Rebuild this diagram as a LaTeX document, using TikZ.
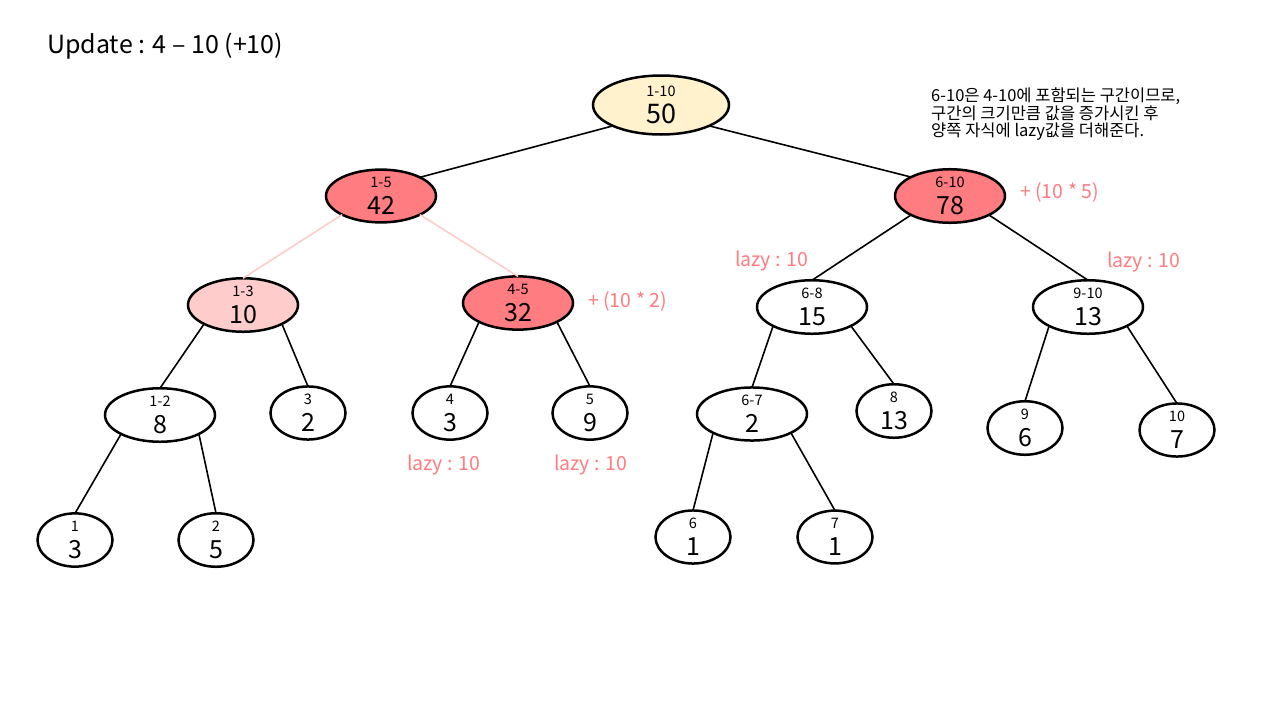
\documentclass[tikz,border=0pt]{standalone}
\usepackage{fontspec}
\setmainfont{Noto Sans CJK KR}
\usetikzlibrary{shapes.geometric}
\definecolor{yel}{HTML}{FFF2CC}
\definecolor{redf}{HTML}{FF7C80}
\definecolor{pinkf}{HTML}{FFCCCC}
\definecolor{pinkline}{HTML}{FFCCCC}
\definecolor{pinktxt}{HTML}{FF7C80}
\newcommand{\lab}[1]{{\fontsize{14.5}{15}\selectfont #1}}
\tikzset{
  tn/.style={ellipse, draw=black, line width=2.5pt, inner sep=0pt, outer sep=0pt,
    align=center, font=\fontsize{25}{27}\selectfont, fill=white},
  inner/.style={tn, minimum width=110pt, minimum height=50pt},
  leaf/.style={tn, minimum width=75pt, minimum height=48pt},
  edge/.style={line width=1.6pt, draw=black},
  pedge/.style={line width=1.6pt, draw=pinkline},
  note/.style={text=pinktxt, font=\fontsize{19.5}{21}\selectfont, inner sep=0pt},
}
\begin{document}
\begin{tikzpicture}[x=1pt,y=-1pt]
\useasboundingbox[fill=white] (0,0) rectangle (1280,720);

\node[anchor=west, inner sep=0pt, font=\fontsize{25}{27}\selectfont] (title) at (47,46) {Update : 4 – 10 (+10)};

\node[anchor=north west, inner sep=0pt, align=left, font=\fontsize{16.5}{17.5}\selectfont] (expl) at (931,88)
 {6-10은 4-10에 포함되는 구간이므로,\\구간의 크기만큼 값을 증가시킨 후\\양쪽 자식에 lazy값을 더해준다.};

% nodes
\node[tn, fill=yel, minimum width=136pt, minimum height=59pt, font=\fontsize{27}{27}\selectfont] (n110) at (661,105) {\lab{1-10}\\50};
\node[inner, fill=redf] (n15) at (381,196) {\lab{1-5}\\42};
\node[inner, fill=redf] (n610) at (950,196) {\lab{6-10}\\78};
\node[inner, fill=pinkf] (n13) at (243,305) {\lab{1-3}\\10};
\node[inner, fill=redf] (n45) at (518,303) {\lab{4-5}\\32};
\node[inner] (n68) at (812,307) {\lab{6-8}\\15};
\node[inner] (n910) at (1088,307) {\lab{9-10}\\13};
\node[inner] (n12) at (160,415) {\lab{1-2}\\8};
\node[leaf] (n3) at (308,413) {\lab{3}\\2};
\node[leaf] (n4) at (450,413) {\lab{4}\\3};
\node[leaf] (n5) at (590,413) {\lab{5}\\9};
\node[inner] (n67) at (752,414) {\lab{6-7}\\2};
\node[leaf] (n8) at (894,411) {\lab{8}\\13};
\node[leaf] (n9) at (1025,428) {\lab{9}\\6};
\node[leaf] (n10) at (1177,430) {\lab{10}\\7};
\node[leaf] (n1) at (75,540) {\lab{1}\\3};
\node[leaf] (n2) at (216,540) {\lab{2}\\5};
\node[leaf] (n6) at (693,537) {\lab{6}\\1};
\node[leaf] (n7) at (835,537) {\lab{7}\\1};

% edges
\draw[edge] (n110.south west) -- (n15.north east);
\draw[edge] (n110.south east) -- (n610.north west);
\draw[pedge] (n15.south west) -- (n13.north);
\draw[pedge] (n15.south east) -- (n45.north);
\draw[edge] (n610.south west) -- (n68.north);
\draw[edge] (n610.south east) -- (n910.north);
\draw[edge] (n13.south west) -- (n12.north);
\draw[edge] (n13.south east) -- (n3.north);
\draw[edge] (n45.south west) -- (n4.north);
\draw[edge] (n45.south east) -- (n5.north);
\draw[edge] (n68.south west) -- (n67.north);
\draw[edge] (n68.south east) -- (n8.north);
\draw[edge] (n910.south west) -- (n9.north);
\draw[edge] (n910.south east) -- (n10.north);
\draw[edge] (n12.south west) -- (n1.north);
\draw[edge] (n12.south east) -- (n2.north);
\draw[edge] (n67.south west) -- (n6.north);
\draw[edge] (n67.south east) -- (n7.north);

% annotations
\node[note, anchor=west] (a610) at (1020,192) {+ (10 * 5)};
\node[note, anchor=west] (a45) at (588,301) {+ (10 * 2)};
\node[note, anchor=west] (lz1) at (735,261) {lazy : 10};
\node[note, anchor=west] (lz2) at (1107,262) {lazy : 10};
\node[note, anchor=west] (lz3) at (407,465) {lazy : 10};
\node[note, anchor=west] (lz4) at (554,465) {lazy : 10};
\end{tikzpicture}
\end{document}
